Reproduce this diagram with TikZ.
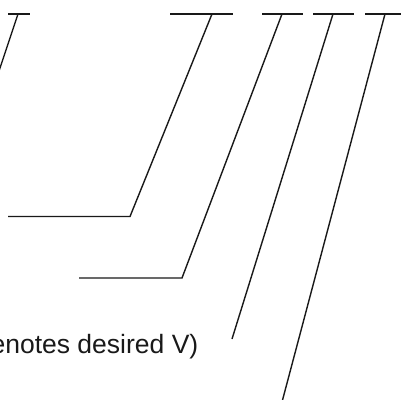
\documentclass[tikz,border=0pt]{standalone}
\usepackage{fontspec}
\setmainfont{Liberation Sans}
\begin{document}
\begin{tikzpicture}[x=1pt,y=-1pt,
  leader/.style={line width=1.4pt,line cap=butt,line join=miter,black!90},
  lbl/.style={inner sep=0pt,font=\fontsize{26.5}{31}\selectfont,text=black!90}]
\useasboundingbox (0,0) rectangle (401,399);
\clip (0,0) rectangle (401,399);
% T-bar junctions
\coordinate (j1) at (18,14);
\coordinate (j2) at (212,14);
\coordinate (j3) at (282,14);
\coordinate (j4) at (333,14);
\coordinate (j5) at (385,14);
% bends and ends
\coordinate (e1) at (-12,104);
\coordinate (b2) at (130,216.5);
\coordinate (h2) at (8,216.5);
\coordinate (b3) at (182,278);
\coordinate (h3) at (79,278);
\coordinate (e4) at (232,339);
\coordinate (e5) at (282,402);
% bars
\draw[leader] (8,14) -- (30,14);
\draw[leader] (170,14) -- (233,14);
\draw[leader] (262,14) -- (303,14);
\draw[leader] (313,14) -- (354,14);
\draw[leader] (365,14) -- (405,14);
% leaders
\draw[leader] (j1) -- (e1);
\draw[leader] (j2) -- (b2) -- (h2);
\draw[leader] (j3) -- (b3) -- (h3);
\draw[leader] (j4) -- (e4);
\draw[leader] (j5) -- (e5);
% text
\node[lbl,anchor=base east] (t1) at (198.5,353) {enotes desired V)};
\end{tikzpicture}
\end{document}
